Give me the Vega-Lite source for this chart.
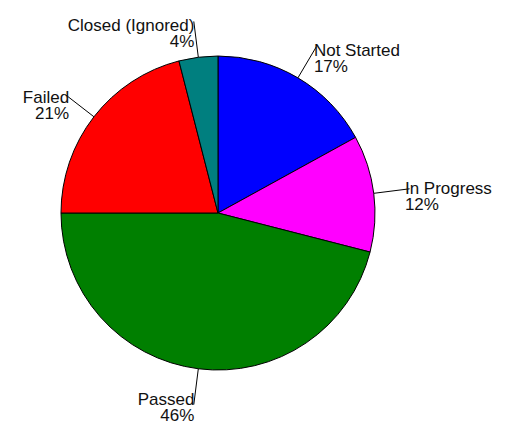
{
  "$schema": "https://vega.github.io/schema/vega-lite/v6.json",
  "width": 509,
  "height": 421,
  "autosize": {"type": "none"},
  "padding": 0,
  "background": "white",
  "config": {"view": {"stroke": null}},
  "data": {
    "values": [
      {"status": "Not Started", "pct": 17},
      {"status": "In Progress", "pct": 12},
      {"status": "Passed", "pct": 46},
      {"status": "Failed", "pct": 21},
      {"status": "Closed (Ignored)", "pct": 4}
    ]
  },
  "transform": [
    {"joinaggregate": [{"op": "sum", "field": "pct", "as": "total"}]},
    {"window": [{"op": "sum", "field": "pct", "as": "cum"}], "frame": [null, 0]},
    {"calculate": "2*PI*(datum.cum - datum.pct/2)/datum.total", "as": "mid"},
    {"calculate": "sin(datum.mid)", "as": "ux"},
    {"calculate": "cos(datum.mid)", "as": "uy"},
    {"calculate": "1.23*datum.ux", "as": "lx"},
    {"calculate": "1.23*datum.uy", "as": "ly"},
    {"calculate": "1.2*datum.ux", "as": "tx"},
    {"calculate": "1.2*datum.uy", "as": "ty"},
    {"calculate": "[datum.status, datum.pct + '%']", "as": "label"}
  ],
  "layer": [
    {
      "mark": {"type": "arc", "outerRadius": 157, "stroke": "black", "strokeWidth": 1},
      "encoding": {
        "x": {"datum": 0, "type": "quantitative", "scale": {"domain": [-1.3885, 1.8535], "nice": false, "zero": false}, "axis": null},
        "y": {"datum": 0, "type": "quantitative", "scale": {"domain": [-1.3248, 1.3567], "nice": false, "zero": false}, "axis": null},
        "theta": {"field": "pct", "type": "quantitative", "stack": true},
        "order": {"field": "cum", "type": "quantitative"},
        "color": {
          "field": "status",
          "type": "nominal",
          "scale": {
            "domain": ["Not Started", "In Progress", "Passed", "Failed", "Closed (Ignored)"],
            "range": ["#0000FF", "#FF00FF", "#007F00", "#FF0000", "#007F7F"]
          },
          "legend": null
        }
      }
    },
    {
      "mark": {"type": "rule", "color": "black", "strokeWidth": 1},
      "encoding": {
        "x": {"field": "ux", "type": "quantitative", "scale": {"domain": [-1.3885, 1.8535], "nice": false, "zero": false}, "axis": null},
        "y": {"field": "uy", "type": "quantitative", "scale": {"domain": [-1.3248, 1.3567], "nice": false, "zero": false}, "axis": null},
        "x2": {"field": "lx"},
        "y2": {"field": "ly"}
      }
    },
    {
      "transform": [{"filter": "datum.ux >= 0"}],
      "mark": {"type": "text", "align": "left", "baseline": "middle", "font": "Liberation Sans", "fontSize": 17, "lineHeight": 16, "color": "#111"},
      "encoding": {
        "x": {"field": "tx", "type": "quantitative", "scale": {"domain": [-1.3885, 1.8535], "nice": false, "zero": false}, "axis": null},
        "y": {"field": "ty", "type": "quantitative", "scale": {"domain": [-1.3248, 1.3567], "nice": false, "zero": false}, "axis": null},
        "text": {"field": "label"}
      }
    },
    {
      "transform": [{"filter": "datum.ux < 0"}],
      "mark": {"type": "text", "align": "right", "baseline": "middle", "font": "Liberation Sans", "fontSize": 17, "lineHeight": 16, "color": "#111"},
      "encoding": {
        "x": {"field": "tx", "type": "quantitative", "scale": {"domain": [-1.3885, 1.8535], "nice": false, "zero": false}, "axis": null},
        "y": {"field": "ty", "type": "quantitative", "scale": {"domain": [-1.3248, 1.3567], "nice": false, "zero": false}, "axis": null},
        "text": {"field": "label"}
      }
    }
  ]
}
